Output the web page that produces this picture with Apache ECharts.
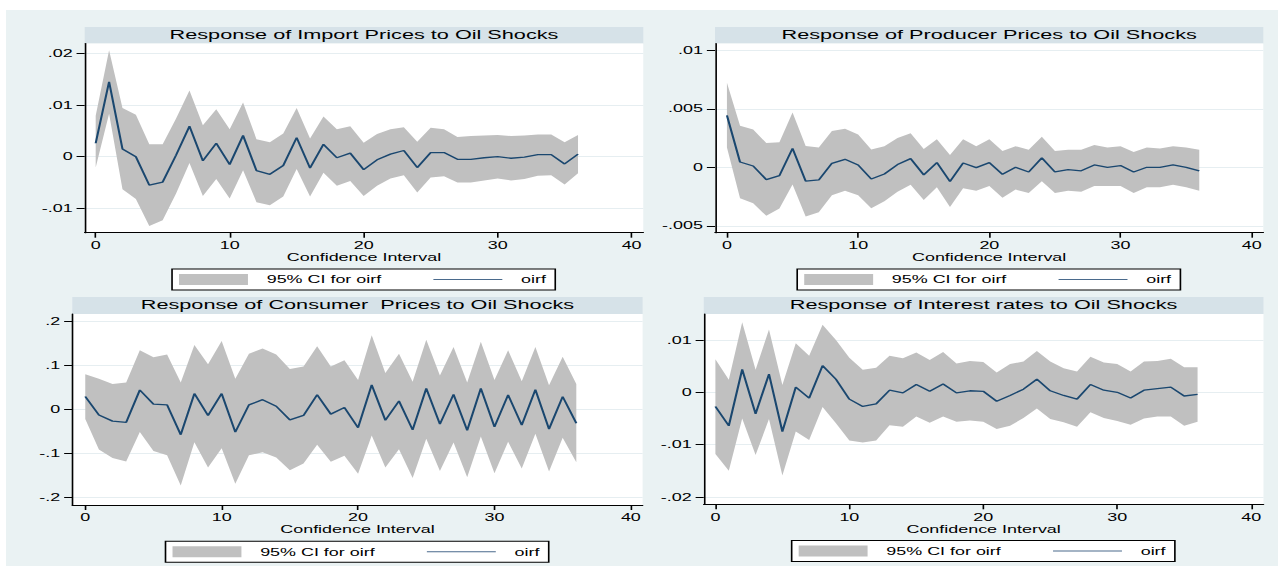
<!DOCTYPE html>
<html><head><meta charset="utf-8">
<script src="https://cdn.jsdelivr.net/npm/echarts@6/dist/echarts.min.js"></script>
<style>
html,body{margin:0;padding:0;background:#fff;overflow:hidden}
#wrap{width:1284px;height:572px;overflow:hidden;position:relative}
#c{width:788px;height:572px;transform:scaleX(1.62944);transform-origin:0 0}
</style></head>
<body><div id="wrap"><div id="c"></div></div>
<script>
// ---------- data ----------
const steps = [0,1,2,3,4,5,6,7,8,9,10,11,12,13,14,15,16,17,18,19,20,21,22,23,24,25,26,27,28,29,30,31,32,33,34,35,36];
const xTicks = [0,10,20,30,40];

const titles = [
  'Response of Import Prices to Oil Shocks',
  'Response of Producer Prices to Oil Shocks',
  'Response of Consumer  Prices to Oil Shocks',
  'Response of Interest rates to Oil Shocks'
];
const xAxisTitle = 'Confidence Interval';
const legendNames = ['95% CI for oirf', 'oirf'];

// Import prices
const oirfImport  = [0.0026,0.0145,0.0015,0.0000,-0.0055,-0.0049,0.0003,0.0059,-0.0008,0.0026,-0.0015,0.0041,-0.0027,-0.0034,-0.0017,0.0037,-0.0022,0.0024,-0.0002,0.0007,-0.0025,-0.0006,0.0005,0.0012,-0.0021,0.0008,0.0008,-0.0005,-0.0005,-0.0002,0.0000,-0.0003,-0.0001,0.0004,0.0004,-0.0014,0.0005];
const upperImport = [0.0079,0.0206,0.0094,0.0081,0.0024,0.0024,0.0074,0.0128,0.0061,0.0092,0.0053,0.0105,0.0034,0.0028,0.0045,0.0094,0.0035,0.0078,0.0053,0.0059,0.0027,0.0044,0.0053,0.0057,0.0029,0.0056,0.0053,0.0038,0.0040,0.0041,0.0042,0.0040,0.0041,0.0043,0.0043,0.0028,0.0042];
const lowerImport = [-0.0021,0.0083,-0.0063,-0.0082,-0.0134,-0.0123,-0.0071,-0.0012,-0.0076,-0.0043,-0.0081,-0.0026,-0.0088,-0.0094,-0.0077,-0.0024,-0.0077,-0.0031,-0.0056,-0.0047,-0.0076,-0.0056,-0.0042,-0.0036,-0.0069,-0.0040,-0.0038,-0.0050,-0.0050,-0.0046,-0.0042,-0.0046,-0.0043,-0.0037,-0.0036,-0.0054,-0.0032];
const ticksImport = [-0.01, 0, 0.01, 0.02];

// Producer prices
const oirfProducer  = [0.00443,0.00045,0.00011,-0.00105,-0.00071,0.00162,-0.00119,-0.00108,0.00034,0.00068,0.0002,-0.0010,-0.00057,0.00023,0.00074,-0.00065,0.0004,-0.00122,0.00037,-0.00003,0.0004,-0.0006,0.0000,-0.0004,0.0008,-0.0004,-0.0002,-0.0003,0.0002,0.0000,0.00015,-0.0004,0.0000,0.0000,0.0002,0.0000,-0.0003];
const upperProducer = [0.00722,0.00355,0.00324,0.00207,0.00213,0.00469,0.00182,0.0017,0.0031,0.0033,0.0028,0.00153,0.0018,0.0025,0.0029,0.00156,0.0024,0.00105,0.0024,0.0018,0.0024,0.0014,0.0018,0.0015,0.0026,0.0014,0.0015,0.0015,0.0019,0.0017,0.0018,0.0013,0.0017,0.0016,0.0018,0.0017,0.0015];
const lowerProducer = [0.0017,-0.00264,-0.00307,-0.00415,-0.00352,-0.00148,-0.0042,-0.00384,-0.00239,-0.0020,-0.0024,-0.0035,-0.0029,-0.0021,-0.0015,-0.0028,-0.0017,-0.0034,-0.0018,-0.0020,-0.0016,-0.0026,-0.0019,-0.0022,-0.0012,-0.0022,-0.0020,-0.0021,-0.0016,-0.0016,-0.0016,-0.0022,-0.0017,-0.0017,-0.0015,-0.0017,-0.0020];
const ticksProducer = [-0.005, 0, 0.005, 0.01];

// Consumer prices
const oirfConsumer  = [0.029,-0.013,-0.027,-0.030,0.044,0.012,0.010,-0.058,0.036,-0.014,0.036,-0.052,0.010,0.022,0.007,-0.024,-0.014,0.033,-0.011,0.004,-0.042,0.056,-0.025,0.019,-0.047,0.048,-0.034,0.034,-0.048,0.048,-0.040,0.033,-0.036,0.045,-0.045,0.029,-0.032];
const upperConsumer = [0.080,0.070,0.058,0.061,0.135,0.119,0.125,0.061,0.147,0.103,0.156,0.070,0.127,0.139,0.125,0.092,0.098,0.144,0.098,0.112,0.067,0.169,0.083,0.127,0.063,0.159,0.077,0.142,0.061,0.154,0.067,0.135,0.064,0.142,0.055,0.120,0.058];
const lowerConsumer = [-0.022,-0.092,-0.111,-0.119,-0.052,-0.095,-0.105,-0.174,-0.075,-0.133,-0.089,-0.170,-0.105,-0.098,-0.110,-0.139,-0.124,-0.081,-0.120,-0.106,-0.147,-0.060,-0.133,-0.091,-0.157,-0.067,-0.141,-0.076,-0.155,-0.062,-0.146,-0.074,-0.135,-0.056,-0.142,-0.065,-0.121];
const ticksConsumer = [-0.2, -0.1, 0, 0.1, 0.2];

// Interest rates
const oirfInterest  = [-0.0027,-0.0064,0.0044,-0.0041,0.0035,-0.0075,0.0010,-0.0011,0.0051,0.0025,-0.0013,-0.0027,-0.0022,0.0004,-0.0001,0.0015,0.0002,0.0016,-0.0001,0.0003,0.0002,-0.0017,-0.0006,0.0006,0.0025,0.0003,-0.0006,-0.0013,0.0015,0.0004,0.0000,-0.0011,0.0004,0.0007,0.0010,-0.0007,-0.0004];
const upperInterest = [0.0063,0.0024,0.0134,0.0043,0.0120,0.0014,0.0094,0.0070,0.0129,0.0100,0.0066,0.0043,0.0047,0.0070,0.0065,0.0076,0.0062,0.0077,0.0055,0.0060,0.0058,0.0038,0.0054,0.0059,0.0079,0.0059,0.0046,0.0040,0.0068,0.0057,0.0054,0.0040,0.0059,0.0060,0.0064,0.0048,0.0048];
const lowerInterest = [-0.0118,-0.0150,-0.0050,-0.0120,-0.0051,-0.0159,-0.0075,-0.0091,-0.0028,-0.0059,-0.0092,-0.0096,-0.0092,-0.0063,-0.0066,-0.0046,-0.0058,-0.0046,-0.0056,-0.0054,-0.0056,-0.0070,-0.0064,-0.0049,-0.0031,-0.0051,-0.0057,-0.0066,-0.0038,-0.0049,-0.0055,-0.0062,-0.0050,-0.0046,-0.0046,-0.0064,-0.0056];
const ticksInterest = [-0.02, -0.01, 0, 0.01];

// ---------- layout (unscaled px; container is stretched horizontally) ----------
const FONT = '"Liberation Sans", Arial, Helvetica, sans-serif';
const C_BG = '#eaf2f3', C_BAND = '#d6e2e8', C_CI = '#c0c0c0', C_LINE = '#1a476f', C_LEG_LINE = '#4a6a8c';

const panels = [
  {oirf: oirfImport, hi: upperImport, lo: lowerImport, ticks: ticksImport,
   yMin: -0.0147, yMax: 0.0219, xMin: -0.82, xMax: 40.87,
   g: {left: 51.98, top: 43.5, width: 342.8, height: 189.2}, bandTop: 27},
  {oirf: oirfProducer, hi: upperProducer, lo: lowerProducer, ticks: ticksProducer,
   yMin: -0.00559, yMax: 0.01058, xMin: -0.91, xMax: 40.88,
   g: {left: 438.8, top: 43.5, width: 336.5, height: 189.2}, bandTop: 27},
  {oirf: oirfConsumer, hi: upperConsumer, lo: lowerConsumer, ticks: ticksConsumer,
   yMin: -0.2185, yMax: 0.2176, xMin: -0.95, xMax: 40.86,
   g: {left: 44.37, top: 314, width: 350.0, height: 191}, bandTop: 297},
  {oirf: oirfInterest, hi: upperInterest, lo: lowerInterest, ticks: ticksInterest,
   yMin: -0.0214, yMax: 0.01497, xMin: -0.87, xMax: 40.92,
   g: {left: 431.9, top: 314, width: 343.5, height: 190.3}, bandTop: 297}
];

function fmt(v) {
  const s = String(+(+v).toFixed(6));
  return s.replace(/^(-?)0\./, '$1.');
}
function pairs(arr) { return steps.map((s, i) => [s, arr[i]]); }

const option = {
  backgroundColor: '#ffffff',
  animation: false,
  textStyle: {fontFamily: FONT},
  grid: [], xAxis: [], yAxis: [], series: [], title: [], legend: [],
  graphic: {elements: [
    {type: 'rect', shape: {x: 3.7, y: 10, width: 780.6, height: 556}, style: {fill: C_BG}, z: -20}
  ]}
};

panels.forEach((p, k) => {
  const cx = p.g.left + p.g.width / 2;
  const bottom = p.g.top + p.g.height;
  option.graphic.elements.push(
    {type: 'rect', shape: {x: p.g.left, y: p.bandTop, width: p.g.width, height: p.g.top - p.bandTop}, style: {fill: C_BAND}, z: -15},
    {type: 'rect', shape: {x: p.g.left, y: p.g.top, width: p.g.width, height: p.g.height}, style: {fill: '#ffffff'}, z: -15}
  );
  option.grid.push({left: p.g.left, top: p.g.top, width: p.g.width, height: p.g.height,
    containLabel: false, outerBoundsMode: 'none', show: false});
  option.title.push({text: titles[k], left: cx, top: p.bandTop, textAlign: 'center', padding: 0,
    textStyle: {fontFamily: FONT, fontSize: 13.3, fontWeight: 'normal', color: '#000', lineHeight: 16}});
  option.xAxis.push({
    gridIndex: k, type: 'value', min: p.xMin, max: p.xMax,
    axisLine: {show: true, onZero: false, lineStyle: {color: '#000', width: 1}},
    axisTick: {show: true, length: 5, customValues: xTicks, lineStyle: {color: '#000', width: 1}},
    axisLabel: {show: true, customValues: xTicks, margin: 7, fontSize: 11, color: '#000', fontFamily: FONT},
    splitLine: {show: false},
    name: xAxisTitle, nameLocation: 'middle', nameGap: 19,
    nameTextStyle: {fontSize: 11, color: '#000', fontFamily: FONT}
  });
  option.yAxis.push({
    gridIndex: k, type: 'value', min: p.yMin, max: p.yMax,
    axisLine: {show: true, onZero: false, lineStyle: {color: '#000', width: 1}},
    axisTick: {show: true, length: 5, customValues: p.ticks, lineStyle: {color: '#000', width: 1}},
    axisLabel: {show: true, customValues: p.ticks, margin: 7.4, fontSize: 11, color: '#000', fontFamily: FONT, formatter: fmt},
    splitLine: {show: true, lineStyle: {color: '#e6eef1', width: 1}}
  });
  const hi = p.hi, lo = p.lo;
  option.series.push(
    {type: 'custom', name: legendNames[0], xAxisIndex: k, yAxisIndex: k,
     data: steps.map((s, i) => [s, lo[i], hi[i]]), encode: {x: 0, y: [1, 2]},
     silent: true, z: 1, itemStyle: {color: C_CI},
     renderItem: function (params, api) {
       if (params.dataIndex !== 0) return;
       const pts = [];
       for (let i = 0; i < steps.length; i++) pts.push(api.coord([steps[i], hi[i]]));
       for (let i = steps.length - 1; i >= 0; i--) pts.push(api.coord([steps[i], lo[i]]));
       return {type: 'polygon', shape: {points: pts}, style: {fill: C_CI, stroke: null}};
     }},
    {type: 'line', name: legendNames[1], xAxisIndex: k, yAxisIndex: k,
     data: pairs(p.oirf), symbol: 'none', silent: true,
     lineStyle: {color: C_LINE, width: 1.3}, itemStyle: {color: C_LINE}, z: 3}
  );
  option.legend.push({
    left: cx - 117.8, top: bottom + 36.3, orient: 'horizontal',
    itemWidth: 42.3, itemHeight: 11, itemGap: 31.5,
    padding: [5, 5.7, 5, 4.3], backgroundColor: '#fff', borderColor: '#000', borderWidth: 1, borderRadius: 0,
    selectedMode: false,
    textStyle: {fontSize: 11, color: '#000', fontFamily: FONT, lineHeight: 11, padding: [0, 0, 0, 6.5]},
    data: [
      {name: legendNames[0], icon: 'rect', itemStyle: {color: C_CI}},
      {name: legendNames[1], icon: 'line', itemStyle: {color: C_LEG_LINE, borderColor: C_LEG_LINE, borderWidth: 1}, lineStyle: {color: C_LEG_LINE, width: 1}}
    ]
  });
});

const chart = echarts.init(document.getElementById('c'), null, {renderer: 'svg'});
chart.setOption(option);
</script>
</body></html>
